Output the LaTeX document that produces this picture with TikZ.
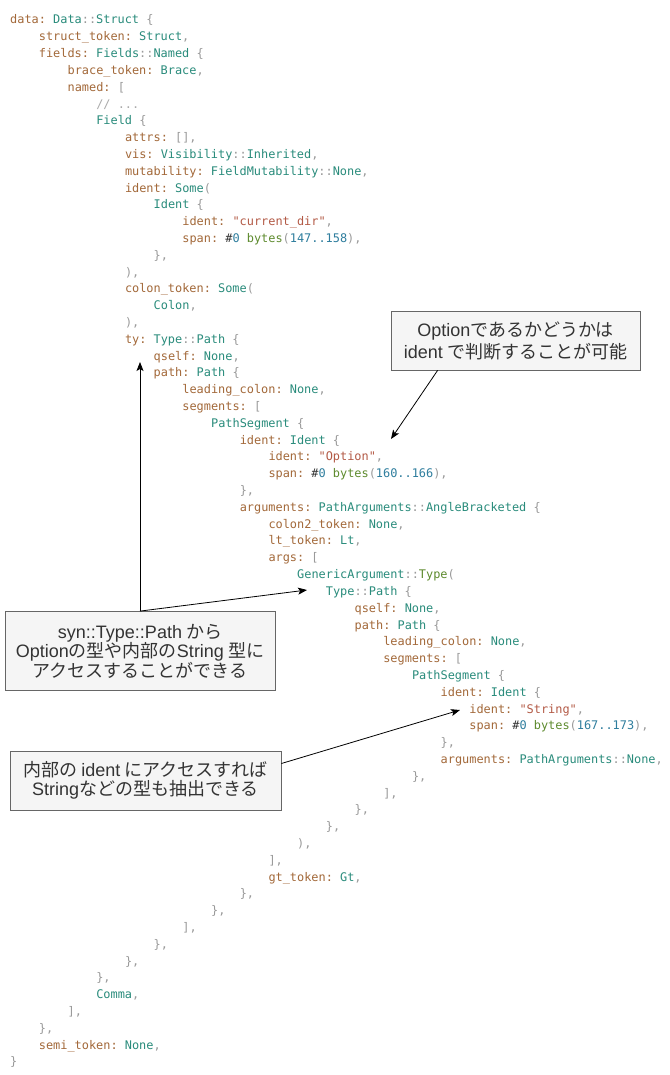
\documentclass[tikz,border=0pt]{standalone}
\usepackage{fontspec}
\usepackage{xcolor}
\usetikzlibrary{arrows.meta,calc}

\setmonofont{DejaVu Sans Mono}
\newfontfamily\jpfont{Noto Sans CJK JP}
\newfontfamily\lafont{Liberation Sans}

\definecolor{keyc}{HTML}{A3693A}
\definecolor{typec}{HTML}{2A8C7C}
\definecolor{punc}{HTML}{9A9A9A}
\definecolor{strc}{HTML}{B35A46}
\definecolor{numc}{HTML}{2F7E9E}
\definecolor{func}{HTML}{5E8B2E}
\definecolor{comc}{HTML}{AAAAAA}
\definecolor{hashc}{HTML}{333333}
\definecolor{notefill}{HTML}{F5F5F5}
\definecolor{noteline}{HTML}{666666}

\newcommand\tkey[1]{\textcolor{keyc}{#1}}
\newcommand\ttype[1]{\textcolor{typec}{#1}}
\newcommand\tpun[1]{\textcolor{punc}{#1}}
\newcommand\tstr[1]{\textcolor{strc}{#1}}
\newcommand\tnum[1]{\textcolor{numc}{#1}}
\newcommand\tfun[1]{\textcolor{func}{#1}}
\newcommand\tcom[1]{\textcolor{comc}{#1}}
\newcommand\thash{\textcolor{hashc}{\#}}
\newcommand\la[1]{{\lafont #1}}
% one line of the dump: number, indent level, text
\newcommand\codeline[3]{\node[code] (l#1) at ({10+28.7*#2},{24+16.806*(#1-1)}) {#3};}

\begin{document}
\begin{tikzpicture}[x=1pt,y=-1pt,
    code/.style={anchor=base west,inner sep=0pt,font=\ttfamily\fontsize{11.9}{14}\selectfont},
    note/.style={draw=noteline,fill=notefill,line width=0.8pt,inner sep=0pt,align=center,text=black!80},
    arr/.style={-{Stealth[length=9pt,width=7pt,inset=2pt]},line width=0.8pt}]
        \fill[white] (0,0) rectangle (669,1075);
        \useasboundingbox (0,0) rectangle (669,1075);

        % syn dump
        \codeline{1}{0}{\tkey{data:} \ttype{Data}\tpun{::}\ttype{Struct} \tpun{\{}}
        \codeline{2}{1}{\tkey{struct\_token:} \ttype{Struct}\tpun{,}}
        \codeline{3}{1}{\tkey{fields:} \ttype{Fields}\tpun{::}\ttype{Named} \tpun{\{}}
        \codeline{4}{2}{\tkey{brace\_token:} \ttype{Brace}\tpun{,}}
        \codeline{5}{2}{\tkey{named:} \tpun{[}}
        \codeline{6}{3}{\tcom{// ...}}
        \codeline{7}{3}{\ttype{Field} \tpun{\{}}
        \codeline{8}{4}{\tkey{attrs:} \tpun{[],}}
        \codeline{9}{4}{\tkey{vis:} \ttype{Visibility}\tpun{::}\ttype{Inherited}\tpun{,}}
        \codeline{10}{4}{\tkey{mutability:} \ttype{FieldMutability}\tpun{::}\ttype{None}\tpun{,}}
        \codeline{11}{4}{\tkey{ident:} \ttype{Some}\tpun{(}}
        \codeline{12}{5}{\ttype{Ident} \tpun{\{}}
        \codeline{13}{6}{\tkey{ident:} \tstr{"current\_dir"}\tpun{,}}
        \codeline{14}{6}{\tkey{span:} \thash\tnum{0} \tfun{bytes}\tpun{(}\tnum{147..158}\tpun{),}}
        \codeline{15}{5}{\tpun{\},}}
        \codeline{16}{4}{\tpun{),}}
        \codeline{17}{4}{\tkey{colon\_token:} \ttype{Some}\tpun{(}}
        \codeline{18}{5}{\ttype{Colon}\tpun{,}}
        \codeline{19}{4}{\tpun{),}}
        \codeline{20}{4}{\tkey{ty:} \ttype{Type}\tpun{::}\ttype{Path} \tpun{\{}}
        \codeline{21}{5}{\tkey{qself:} \ttype{None}\tpun{,}}
        \codeline{22}{5}{\tkey{path:} \ttype{Path} \tpun{\{}}
        \codeline{23}{6}{\tkey{leading\_colon:} \ttype{None}\tpun{,}}
        \codeline{24}{6}{\tkey{segments:} \tpun{[}}
        \codeline{25}{7}{\ttype{PathSegment} \tpun{\{}}
        \codeline{26}{8}{\tkey{ident:} \ttype{Ident} \tpun{\{}}
        \codeline{27}{9}{\tkey{ident:} \tstr{"Option"}\tpun{,}}
        \codeline{28}{9}{\tkey{span:} \thash\tnum{0} \tfun{bytes}\tpun{(}\tnum{160..166}\tpun{),}}
        \codeline{29}{8}{\tpun{\},}}
        \codeline{30}{8}{\tkey{arguments:} \ttype{PathArguments}\tpun{::}\ttype{AngleBracketed} \tpun{\{}}
        \codeline{31}{9}{\tkey{colon2\_token:} \ttype{None}\tpun{,}}
        \codeline{32}{9}{\tkey{lt\_token:} \ttype{Lt}\tpun{,}}
        \codeline{33}{9}{\tkey{args:} \tpun{[}}
        \codeline{34}{10}{\ttype{GenericArgument}\tpun{::}\tfun{Type}\tpun{(}}
        \codeline{35}{11}{\ttype{Type}\tpun{::}\ttype{Path} \tpun{\{}}
        \codeline{36}{12}{\tkey{qself:} \ttype{None}\tpun{,}}
        \codeline{37}{12}{\tkey{path:} \ttype{Path} \tpun{\{}}
        \codeline{38}{13}{\tkey{leading\_colon:} \ttype{None}\tpun{,}}
        \codeline{39}{13}{\tkey{segments:} \tpun{[}}
        \codeline{40}{14}{\ttype{PathSegment} \tpun{\{}}
        \codeline{41}{15}{\tkey{ident:} \ttype{Ident} \tpun{\{}}
        \codeline{42}{16}{\tkey{ident:} \tstr{"String"}\tpun{,}}
        \codeline{43}{16}{\tkey{span:} \thash\tnum{0} \tfun{bytes}\tpun{(}\tnum{167..173}\tpun{),}}
        \codeline{44}{15}{\tpun{\},}}
        \codeline{45}{15}{\tkey{arguments:} \ttype{PathArguments}\tpun{::}\ttype{None}\tpun{,}}
        \codeline{46}{14}{\tpun{\},}}
        \codeline{47}{13}{\tpun{],}}
        \codeline{48}{12}{\tpun{\},}}
        \codeline{49}{11}{\tpun{\},}}
        \codeline{50}{10}{\tpun{),}}
        \codeline{51}{9}{\tpun{],}}
        \codeline{52}{9}{\tkey{gt\_token:} \ttype{Gt}\tpun{,}}
        \codeline{53}{8}{\tpun{\},}}
        \codeline{54}{7}{\tpun{\},}}
        \codeline{55}{6}{\tpun{],}}
        \codeline{56}{5}{\tpun{\},}}
        \codeline{57}{4}{\tpun{\},}}
        \codeline{58}{3}{\tpun{\},}}
        \codeline{59}{3}{\ttype{Comma}\tpun{,}}
        \codeline{60}{2}{\tpun{],}}
        \codeline{61}{1}{\tpun{\},}}
        \codeline{62}{1}{\tkey{semi\_token:} \ttype{None}\tpun{,}}
        \codeline{63}{0}{\tpun{\}}}

        % notes
        \node[note,minimum width=249pt,minimum height=59pt,font=\jpfont\fontsize{18}{22}\selectfont]
            (optbox) at (515.5,340.5) {\la{Option}であるかどうかは\\\la{ident} で判断することが可能};
        \node[note,minimum width=270pt,minimum height=79pt,font=\jpfont\fontsize{18}{19.5}\selectfont]
            (pathbox) at (140,651) {\la{syn::Type::Path} から\\\la{Option}の型や内部の\la{String} 型に\\アクセスすることができる};
        \node[note,minimum width=271pt,minimum height=59pt,font=\jpfont\fontsize{18}{19.5}\selectfont]
            (strbox) at (145.5,780.5) {内部の \la{ident} にアクセスすれば\\\la{String}などの型も抽出できる};

        % arrow ends
        \coordinate (optTip) at (391,439);
        \coordinate (tyTip) at (140,362);
        \coordinate (argTip) at (307,590);
        \coordinate (strTip) at (460,710);

        \draw[arr] ($(optbox.south west)+(47,0)$) -- (optTip);
        \draw[arr] (pathbox.north) -- (tyTip);
        \draw[arr] (pathbox.north) -- (argTip);
        \draw[arr] ($(strbox.east)+(0,-17)$) -- (strTip);
    \end{tikzpicture}
\end{document}
